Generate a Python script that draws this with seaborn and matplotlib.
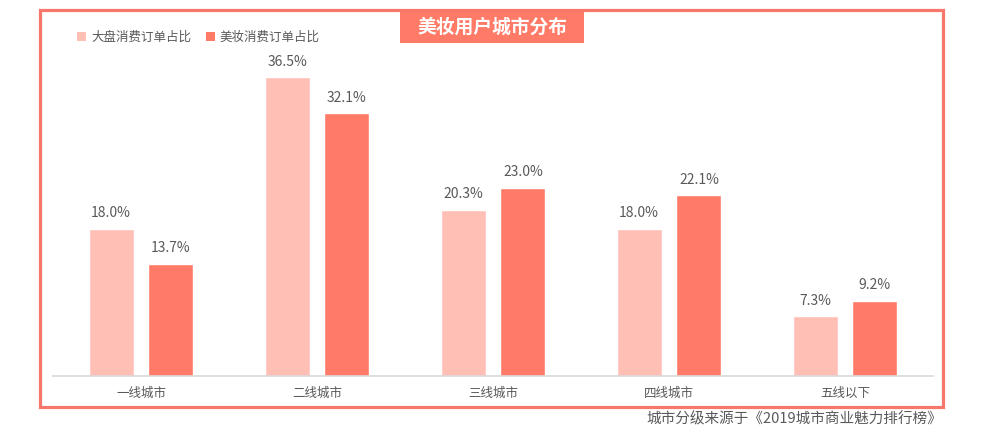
import matplotlib
matplotlib.use("Agg")
import matplotlib.pyplot as plt
import seaborn as sns
import pandas as pd
from matplotlib.patches import Rectangle

categories = ["一线城市", "二线城市", "三线城市", "四线城市", "五线以下"]
series_names = ["大盘消费订单占比", "美妆消费订单占比"]
overall_share = [18.0, 36.5, 20.3, 18.0, 7.3]
beauty_share = [13.7, 32.1, 23.0, 22.1, 9.2]
title = "美妆用户城市分布"
footnote = "城市分级来源于《2019城市商业魅力排行榜》"

light = "#FFBFB5"
dark = "#FF7B68"
border = "#F7776B"
text_gray = "#595959"

sns.set_theme(style="white")
plt.rcParams['font.family'] = ['Noto Sans CJK SC', 'DejaVu Sans']

df = pd.DataFrame({
    "city": categories * 2,
    "series": [series_names[0]] * len(categories) + [series_names[1]] * len(categories),
    "value": overall_share + beauty_share,
})

W, H = 989, 432
fig = plt.figure(figsize=(W / 100, H / 100), dpi=100)

def fx(px):
    return px / W

def fy(py):
    return 1 - py / H

# border frame
fig.patches.append(Rectangle((fx(40), fy(407)), fx(943) - fx(40), fy(10) - fy(407),
                             transform=fig.transFigure, fill=False, edgecolor=border, linewidth=2.3))
# title box
fig.patches.append(Rectangle((fx(400), fy(43)), fx(584) - fx(400), fy(12) - fy(43),
                             transform=fig.transFigure, facecolor=dark, edgecolor="none"))
fig.text(fx(492), fy(27.5), title, ha="center", va="center", color="white",
         fontsize=13.5, fontweight="bold")

ax = fig.add_axes([fx(53), fy(376), fx(933) - fx(53), fy(50) - fy(376)])
sns.barplot(data=df, x="city", y="value", hue="series", hue_order=series_names,
            palette=[light, dark], width=0.68, gap=0.25, ax=ax, legend=False,
            saturation=1, errorbar=None)

ax.set_ylim(0, 39.8)
ax.set_xlim(-0.5, len(categories) - 0.5)
ax.set_xlabel("")
ax.set_ylabel("")
ax.set_yticks([])
for s in ["top", "right", "left"]:
    ax.spines[s].set_visible(False)
ax.spines["bottom"].set_color("#D9D9D9")
ax.spines["bottom"].set_linewidth(1.2)
ax.tick_params(axis="x", length=0, pad=8, labelsize=9, labelcolor=text_gray)

for cont in ax.containers:
    ax.bar_label(cont, labels=[f"{v:.1f}%" for v in cont.datavalues], padding=6,
                 fontsize=10, color=text_gray)

# legend
handles = [Rectangle((0, 0), 1, 1, facecolor=c, edgecolor="none") for c in (light, dark)]
fig.legend(handles, series_names, loc="center left", bbox_to_anchor=(fx(66), fy(37)),
           ncol=2, frameon=False, fontsize=9, handlelength=0.7, handleheight=0.7,
           handletextpad=0.4, columnspacing=1.2, labelcolor=text_gray)

fig.text(fx(942), fy(419), footnote, ha="right", va="center", fontsize=10.5, color=text_gray)

fig.savefig("out.png", dpi=100)
